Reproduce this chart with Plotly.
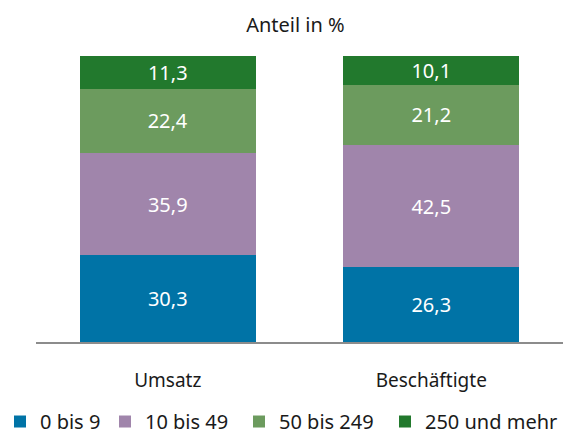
import plotly.graph_objects as go

categories = ["Umsatz", "Beschäftigte"]
series_names = ["0 bis 9", "10 bis 49", "50 bis 249", "250 und mehr"]
v_0_9 = [30.3, 26.3]
v_10_49 = [35.9, 42.5]
v_50_249 = [22.4, 21.2]
v_250 = [11.3, 10.1]
values = [v_0_9, v_10_49, v_50_249, v_250]
colors = ["#0073a6", "#a085ab", "#6c9b5e", "#22792d"]
legend_x = [-0.0759, 0.1309, 0.3852, 0.6622]

FONT = "Noto Sans"

fig = go.Figure()
legend_ids = ["legend", "legend2", "legend3", "legend4"]
for name, vals, col, lid in zip(series_names, values, colors, legend_ids):
    fig.add_trace(go.Bar(
        x=categories, y=vals, name=name,
        marker=dict(color=col, line=dict(width=0)),
        text=[f"{v:.1f}".replace(".", ",") for v in vals],
        textposition="inside", insidetextanchor="middle",
        constraintext="none",
        textfont=dict(color="white", size=20, family=FONT),
        hoverinfo="skip",
        legend=lid,
    ))

legend_layouts = {}
for lid, lx in zip(legend_ids, legend_x):
    legend_layouts[lid] = dict(
        orientation="h", xref="paper", x=lx, xanchor="left",
        yref="container", y=0.0651, yanchor="top",
        font=dict(size=20, color="#1a1a1a", family=FONT),
        itemwidth=30, bgcolor="rgba(0,0,0,0)",
    )

fig.update_layout(
    barmode="stack",
    bargap=0.332,
    width=567, height=430,
    margin=dict(l=36, r=4, t=56, b=88),
    plot_bgcolor="white", paper_bgcolor="white",
    font=dict(family=FONT, size=20, color="#1a1a1a"),
    title=dict(text="Anteil in %", x=0.521, xanchor="center", y=0.942, yanchor="middle",
               font=dict(size=20, family=FONT, color="#1a1a1a")),
    xaxis=dict(showline=True, linecolor="#8c8c8c", linewidth=2, ticks="",
               tickfont=dict(size=19, color="#1a1a1a"), range=[-0.5, 1.5],
               ticklabelstandoff=20),
    yaxis=dict(visible=False, range=[0, 100]),
    showlegend=True,
    uniformtext=dict(mode=False),
    **legend_layouts,
)
fig.write_html("out.html", config={"displayModeBar": False},
               post_script="document.body.style.margin='0';")
